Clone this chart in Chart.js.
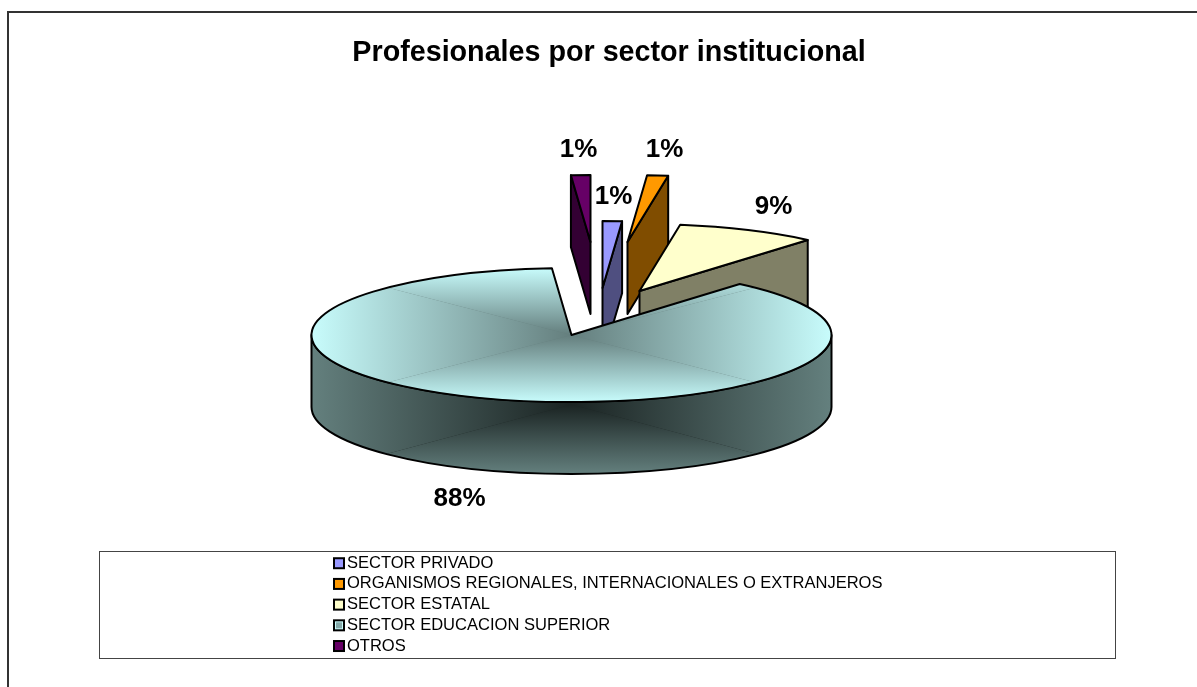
<!DOCTYPE html>
<html><head><meta charset="utf-8">
<style>html,body{margin:0;padding:0;background:#fff}canvas{display:block}</style>
<script src="https://cdn.jsdelivr.net/npm/chart.js@4/dist/chart.umd.min.js"></script>
</head><body><canvas id="c" width="1197" height="687"></canvas>
<script>
const categories = ["SECTOR PRIVADO","ORGANISMOS REGIONALES, INTERNACIONALES O EXTRANJEROS","SECTOR ESTATAL","SECTOR EDUCACION SUPERIOR","OTROS"];
const shares = [1.2,1.3,8.7,87.6,1.2];
const titleText = "Profesionales por sector institucional";
const topColors = ["#9999ff","#ff9900","#ffffcc","#c8fafa","#660066"];
const wallColors = ["#4f4f80","#804d00","#808066","#64807e","#330033"];
const swatchColors = ["#9999ff","#ff9900","#ffffcc","#84a8a8","#660066"];
const explodeShift = [[31,-47],[56,-93],[68,-44],[0,0],[19,-93]];
const labelAnchor = [[613.5,197],[664.5,150],[773.5,207],[459.5,499],[578.5,150]];
const paintOrder = [4,0,1,2,3];
const SQUASH = 67/260, DEPTH = 72;
const FONT = '"Liberation Sans", Arial, sans-serif';
const LEGEND_FS = 16.55;

function pathFill(ctx,x0,y0,x1,y1,edge,center){
  const cx=(x0+x1)/2, cy=(y0+y1)/2;
  ctx.fillStyle=center; ctx.fillRect(x0,y0,x1-x0,y1-y0);
  const tris=[[x0,y0,x0,y1,x0,cy,cx,cy],[x1,y0,x1,y1,x1,cy,cx,cy],[x0,y0,x1,y0,cx,y0,cx,cy],[x0,y1,x1,y1,cx,y1,cx,cy]];
  tris.forEach(t=>{
    const g=ctx.createLinearGradient(t[4],t[5],t[6],t[7]);
    g.addColorStop(0,edge); g.addColorStop(1,center);
    ctx.fillStyle=g;
    ctx.beginPath();ctx.moveTo(t[0],t[1]);ctx.lineTo(t[2],t[3]);ctx.lineTo(cx,cy);ctx.closePath();ctx.fill();
  });
}

const pie3d = {
  id:'pie3d',
  afterLayout(chart){
    const t=chart.titleBlock; t.left+=38; t.right+=38;
  },
  beforeDraw(chart){
    const ctx=chart.ctx, lg=chart.legend;
    lg.left=328.55; lg.right=1110; lg.top=550.8; lg.bottom=660;
    ctx.save();
    ctx.strokeStyle='#333'; ctx.lineWidth=2;
    ctx.beginPath();ctx.moveTo(1197,12);ctx.lineTo(8,12);ctx.lineTo(8,687);ctx.stroke();
    ctx.strokeStyle='#444'; ctx.lineWidth=1;
    ctx.strokeRect(99.5,551.5,1016,107);
    ctx.restore();
  },
  beforeDatasetDraw(chart,args){
    const ctx=chart.ctx, arcs=args.meta.data;
    ctx.save();
    ctx.lineJoin='round'; ctx.strokeStyle='#000'; ctx.lineWidth=2;
    paintOrder.forEach(i=>{
      const p=arcs[i].getProps(['x','y','startAngle','endAngle','outerRadius']);
      const ax=p.x+explodeShift[i][0], ay=p.y+explodeShift[i][1];
      const rx=p.outerRadius, ry=rx*SQUASH, sa=p.startAngle, ea=p.endAngle;
      const big=i===3;
      [[sa,-1],[ea,1]].forEach(([ang,side])=>{
        if(Math.sin(ang+Math.PI/2)*side<=0.001) return;
        const ex=ax+rx*Math.cos(ang), ey=ay+ry*Math.sin(ang);
        ctx.beginPath();ctx.moveTo(ax,ay);ctx.lineTo(ex,ey);ctx.lineTo(ex,ey+DEPTH);ctx.lineTo(ax,ay+DEPTH);ctx.closePath();
        ctx.fillStyle=wallColors[i];ctx.fill();ctx.stroke();
      });
      const lo=Math.max(sa,0), hi=Math.min(ea,Math.PI);
      const rim=()=>{
        ctx.beginPath();
        ctx.ellipse(ax,ay,rx,ry,0,lo,hi);
        ctx.ellipse(ax,ay+DEPTH,rx,ry,0,hi,lo,true);
        ctx.closePath();
      };
      if(hi>lo){
        rim();
        ctx.save();ctx.clip();
        pathFill(ctx,ax-rx,ay,ax+rx,ay+ry+DEPTH,big?'#64807e':wallColors[i],big?'#1a2322':wallColors[i]);
        ctx.restore();
        rim();ctx.stroke();
      }
      const face=()=>{ctx.beginPath();ctx.moveTo(ax,ay);ctx.ellipse(ax,ay,rx,ry,0,sa,ea);ctx.closePath();};
      face();
      if(big){
        ctx.save();ctx.clip();
        pathFill(ctx,ax-rx,ay-ry,ax+rx,ay+ry,'#c8fcfc','#647e7d');
        ctx.restore();
        face();
      }else{ctx.fillStyle=topColors[i];ctx.fill();}
      ctx.stroke();
    });
    ctx.restore();
    return false;
  },
  afterDraw(chart){
    const ctx=chart.ctx, lg=chart.legend, opt=lg.options.labels;
    const fs=LEGEND_FS, rowH=fs+opt.padding;
    ctx.save();
    categories.forEach((c,i)=>{
      const cy=lg.top+opt.padding+fs/2+i*rowH;
      ctx.fillStyle='#000';ctx.fillRect(333,cy-6,12,12);
      if(i===3){ctx.fillStyle='#c8fafa';ctx.fillRect(335,cy-4,8,8);}
      ctx.fillStyle=swatchColors[i];
      if(i===3)ctx.fillRect(336,cy-3,6,6);else ctx.fillRect(335,cy-4,8,8);
    });
    ctx.fillStyle='#000';ctx.font='bold 26px '+FONT;ctx.textAlign='center';ctx.textBaseline='middle';
    const sum=shares.reduce((a,b)=>a+b,0);
    shares.forEach((v,i)=>ctx.fillText(Math.round(v/sum*100)+'%',labelAnchor[i][0],labelAnchor[i][1]));
    ctx.restore();
  }
};

new Chart(document.getElementById('c'),{
  type:'pie',
  data:{labels:categories,datasets:[{data:shares,backgroundColor:topColors,borderColor:'#000',borderWidth:2}]},
  options:{
    responsive:false,animation:false,radius:260,
    layout:{padding:{left:0,right:55,top:0,bottom:86.9}},
    plugins:{
      tooltip:{enabled:false},
      title:{display:true,text:titleText,color:'#000',font:{family:FONT,size:28.7,weight:'bold',lineHeight:1.2},padding:{top:35.5,bottom:0}},
      legend:{position:'left',align:'start',maxWidth:1,labels:{
        font:{family:FONT,size:LEGEND_FS},color:'#000',boxWidth:6,boxHeight:6,padding:4.15,
        generateLabels:()=>categories.map((text,i)=>({text,fillStyle:'transparent',strokeStyle:'transparent',lineWidth:0,hidden:false,index:i}))
      }}
    }
  },
  plugins:[pie3d]
});
</script></body></html>
